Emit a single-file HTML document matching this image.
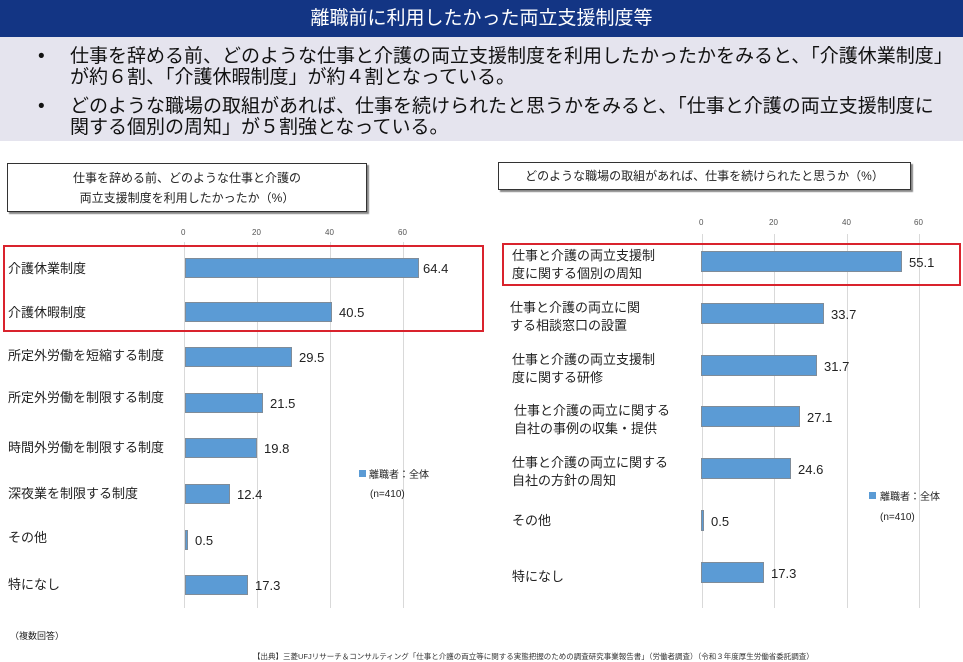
<!DOCTYPE html>
<html><head><meta charset="utf-8"><style>
*{margin:0;padding:0;box-sizing:border-box}
body{width:963px;height:660px;overflow:hidden;background:#fff;font-family:"Liberation Sans","Noto Sans CJK JP",sans-serif;position:relative;color:#222}
.a{position:absolute;white-space:nowrap}
.hdr{left:0;top:0;width:963px;height:37px;background:#133584;color:#fff;font-size:19px;text-align:center;line-height:37px}
.band{left:0;top:37px;width:963px;height:104px;background:#e5e4ee}
.bl{font-size:19px;line-height:21px;color:#111}
.box{border:1px solid #333;background:#fff;text-align:center;box-shadow:2px 2px 1px #888}
.g{width:1px;background:#d9d9d9}
.bar{background:#5b9bd5;border:1px solid #7f8c99;height:20px}
.lab{font-size:13px;line-height:18px}
.v{font-size:13px}
.t{font-size:8px;color:#555}
.red{border:2px solid #d9232d}
</style></head><body>
<div class="a hdr">離職前に利用したかった両立支援制度等</div>
<div class="a band"></div>
<div class="a bl" style="left:38px;top:46px">•</div>
<div class="a bl" style="left:70px;top:46px">仕事を辞める前、どのような仕事と介護の両立支援制度を利用したかったかをみると、「介護休業制度」<br>が約６割、「介護休暇制度」が約４割となっている。</div>
<div class="a bl" style="left:38px;top:96px">•</div>
<div class="a bl" style="left:70px;top:96px">どのような職場の取組があれば、仕事を続けられたと思うかをみると、「仕事と介護の両立支援制度に<br>関する個別の周知」が５割強となっている。</div>

<div class="a box" style="left:7px;top:163px;width:360px;height:49px;padding-top:4px;font-size:12px;line-height:20px">仕事を辞める前、どのような仕事と介護の<br>両立支援制度を利用したかったか（%）</div>
<div class="a box" style="left:498px;top:162px;width:413px;height:28px;line-height:26px;font-size:12px">どのような職場の取組があれば、仕事を続けられたと思うか（%）</div>

<!-- left axis -->
<div class="a t" style="left:181px;top:228px">0</div>
<div class="a t" style="left:252px;top:228px">20</div>
<div class="a t" style="left:325px;top:228px">40</div>
<div class="a t" style="left:398px;top:228px">60</div>
<div class="a g" style="left:184px;top:242px;height:366px"></div>
<div class="a g" style="left:257px;top:242px;height:366px"></div>
<div class="a g" style="left:330px;top:242px;height:366px"></div>
<div class="a g" style="left:403px;top:242px;height:366px"></div>

<div class="a bar" style="left:185px;top:258px;width:234px"></div><div class="a v" style="left:423px;top:261px">64.4</div>
<div class="a bar" style="left:185px;top:302px;width:147px"></div><div class="a v" style="left:339px;top:305px">40.5</div>
<div class="a bar" style="left:185px;top:347px;width:107px"></div><div class="a v" style="left:299px;top:350px">29.5</div>
<div class="a bar" style="left:185px;top:393px;width:78px"></div><div class="a v" style="left:270px;top:396px">21.5</div>
<div class="a bar" style="left:185px;top:438px;width:72px"></div><div class="a v" style="left:264px;top:441px">19.8</div>
<div class="a bar" style="left:185px;top:484px;width:45px"></div><div class="a v" style="left:237px;top:487px">12.4</div>
<div class="a bar" style="left:185px;top:530px;width:3px"></div><div class="a v" style="left:195px;top:533px">0.5</div>
<div class="a bar" style="left:185px;top:575px;width:63px"></div><div class="a v" style="left:255px;top:578px">17.3</div>

<div class="a lab" style="left:8px;top:260px">介護休業制度</div>
<div class="a lab" style="left:8px;top:304px">介護休暇制度</div>
<div class="a lab" style="left:8px;top:347px">所定外労働を短縮する制度</div>
<div class="a lab" style="left:8px;top:389px">所定外労働を制限する制度</div>
<div class="a lab" style="left:8px;top:439px">時間外労働を制限する制度</div>
<div class="a lab" style="left:8px;top:485px">深夜業を制限する制度</div>
<div class="a lab" style="left:8px;top:529px">その他</div>
<div class="a lab" style="left:8px;top:576px">特になし</div>
<div class="a red" style="left:3px;top:245px;width:481px;height:87px"></div>

<div class="a" style="left:359px;top:470px;width:7px;height:7px;background:#5b9bd5"></div>
<div class="a" style="left:369px;top:466px;font-size:10px">離職者：全体</div>
<div class="a" style="left:370px;top:489px;font-size:10px">(n=410)</div>

<!-- right axis -->
<div class="a t" style="left:699px;top:218px">0</div>
<div class="a t" style="left:769px;top:218px">20</div>
<div class="a t" style="left:842px;top:218px">40</div>
<div class="a t" style="left:914px;top:218px">60</div>
<div class="a g" style="left:702px;top:234px;height:374px"></div>
<div class="a g" style="left:774px;top:234px;height:374px"></div>
<div class="a g" style="left:847px;top:234px;height:374px"></div>
<div class="a g" style="left:919px;top:234px;height:374px"></div>

<div class="a bar" style="left:701px;top:251px;width:201px;height:21px"></div><div class="a v" style="left:909px;top:255px">55.1</div>
<div class="a bar" style="left:701px;top:303px;width:123px;height:21px"></div><div class="a v" style="left:831px;top:307px">33.7</div>
<div class="a bar" style="left:701px;top:355px;width:116px;height:21px"></div><div class="a v" style="left:824px;top:359px">31.7</div>
<div class="a bar" style="left:701px;top:406px;width:99px;height:21px"></div><div class="a v" style="left:807px;top:410px">27.1</div>
<div class="a bar" style="left:701px;top:458px;width:90px;height:21px"></div><div class="a v" style="left:798px;top:462px">24.6</div>
<div class="a bar" style="left:701px;top:510px;width:3px;height:21px"></div><div class="a v" style="left:711px;top:514px">0.5</div>
<div class="a bar" style="left:701px;top:562px;width:63px;height:21px"></div><div class="a v" style="left:771px;top:566px">17.3</div>

<div class="a lab" style="left:512px;top:247px">仕事と介護の両立支援制<br>度に関する個別の周知</div>
<div class="a lab" style="left:510px;top:299px">仕事と介護の両立に関<br>する相談窓口の設置</div>
<div class="a lab" style="left:512px;top:351px">仕事と介護の両立支援制<br>度に関する研修</div>
<div class="a lab" style="left:514px;top:402px">仕事と介護の両立に関する<br>自社の事例の収集・提供</div>
<div class="a lab" style="left:512px;top:454px">仕事と介護の両立に関する<br>自社の方針の周知</div>
<div class="a lab" style="left:512px;top:512px">その他</div>
<div class="a lab" style="left:512px;top:568px">特になし</div>
<div class="a red" style="left:502px;top:243px;width:459px;height:43px"></div>

<div class="a" style="left:869px;top:492px;width:7px;height:7px;background:#5b9bd5"></div>
<div class="a" style="left:880px;top:488px;font-size:10px">離職者：全体</div>
<div class="a" style="left:880px;top:512px;font-size:10px">(n=410)</div>

<div class="a" style="left:10px;top:629px;font-size:9px">（複数回答）</div>
<div class="a" style="left:253px;top:651px;font-size:7.5px;color:#333">【出典】三菱UFJリサーチ＆コンサルティング「仕事と介護の両立等に関する実態把握のための調査研究事業報告書」（労働者調査）（令和３年度厚生労働省委託調査）</div>
</body></html>
